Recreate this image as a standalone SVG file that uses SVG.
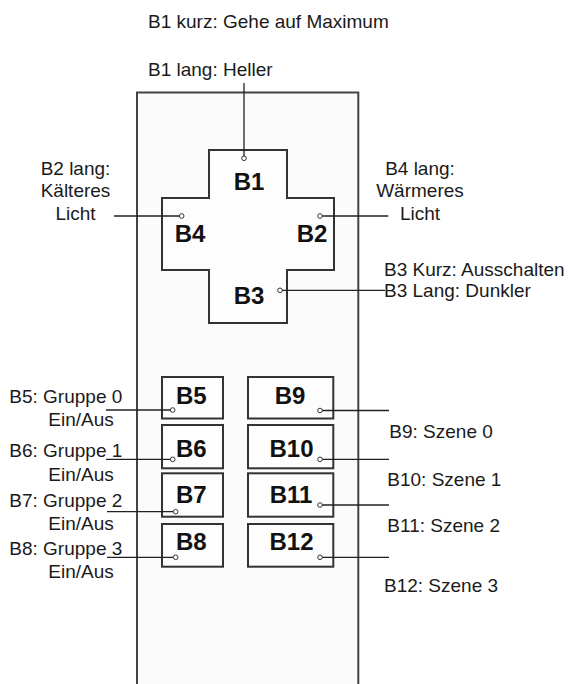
<svg xmlns="http://www.w3.org/2000/svg" width="571" height="684" viewBox="0 0 571 684">
<style>
.lbl{font-family:"Liberation Sans",Arial,sans-serif;font-size:19px;fill:#1a1a1a}
.key{font-family:"Liberation Sans",Arial,sans-serif;font-size:24px;font-weight:bold;fill:#111}
.btn{fill:#fdfdfd;stroke:#333;stroke-width:2}
.con{fill:none;stroke:#222;stroke-width:1.3}
</style>
<defs>
<marker id="dot" markerUnits="userSpaceOnUse" markerWidth="8" markerHeight="8" refX="4" refY="4" orient="auto">
<circle cx="4" cy="4" r="2.3" fill="#fff" stroke="#333" stroke-width="1"/>
</marker>
</defs>
<rect width="571" height="684" fill="#fff"/>
<g id="panel">
<path d="M137,686 V92.5 H358.3 V686" fill="#fbfbfb" stroke="#444" stroke-width="2"/>
</g>
<g id="cross">
<path d="M209,150 H287 V198 H334 V270 H287 V323 H209 V270 H162 V198 H209 Z" fill="#fdfdfd" stroke="#333" stroke-width="2"/>
<text class="key" x="249" y="189.5" text-anchor="middle">B1</text>
<text class="key" x="312" y="242" text-anchor="middle">B2</text>
<text class="key" x="249" y="303.5" text-anchor="middle">B3</text>
<text class="key" x="190" y="242" text-anchor="middle">B4</text>
</g>
<g id="B5"><rect class="btn" x="162" y="377" width="61" height="41.5"/><text class="key" x="176" y="403.5">B5</text></g>
<g id="B6"><rect class="btn" x="162" y="425" width="61" height="43.3"/><text class="key" x="176" y="457">B6</text></g>
<g id="B7"><rect class="btn" x="162" y="473.3" width="61" height="43.4"/><text class="key" x="176" y="503">B7</text></g>
<g id="B8"><rect class="btn" x="162" y="524" width="61" height="42.7"/><text class="key" x="176" y="550">B8</text></g>
<g id="B9"><rect class="btn" x="248" y="377" width="85.3" height="41.5"/><text class="key" x="290" y="404" text-anchor="middle">B9</text></g>
<g id="B10"><rect class="btn" x="248" y="425" width="85.3" height="43.3"/><text class="key" x="291.5" y="456.7" text-anchor="middle">B10</text></g>
<g id="B11"><rect class="btn" x="248" y="473.3" width="85.3" height="43.4"/><text class="key" x="291" y="503.3" text-anchor="middle">B11</text></g>
<g id="B12"><rect class="btn" x="248" y="524" width="85.3" height="42.7"/><text class="key" x="291.5" y="550" text-anchor="middle">B12</text></g>
<g id="connectors">
<path class="con" marker-start="url(#dot)" d="M244,158.3 V83"/>
<path class="con" marker-start="url(#dot)" d="M181.7,216 H114"/>
<path class="con" marker-start="url(#dot)" d="M320,216 H388.3"/>
<path class="con" marker-start="url(#dot)" d="M280,290.3 H385"/>
<path class="con" marker-start="url(#dot)" d="M172.7,410 H106"/>
<path class="con" marker-start="url(#dot)" d="M172.7,459.3 H106"/>
<path class="con" marker-start="url(#dot)" d="M175.7,511.7 H107"/>
<path class="con" marker-start="url(#dot)" d="M175.7,557.3 H107"/>
<path class="con" marker-start="url(#dot)" d="M320,410.5 H389"/>
<path class="con" marker-start="url(#dot)" d="M320,459.3 H389"/>
<path class="con" marker-start="url(#dot)" d="M320,505 H389"/>
<path class="con" marker-start="url(#dot)" d="M320,557.3 H389"/>
</g>
<g id="labels">
<text class="lbl" x="148" y="28.3">B1 kurz: Gehe auf Maximum</text>
<text class="lbl" x="148" y="76">B1 lang: Heller</text>
<text class="lbl" x="75.5" y="175" text-anchor="middle">B2 lang:</text>
<text class="lbl" x="75.5" y="196.7" text-anchor="middle">Kälteres</text>
<text class="lbl" x="75.5" y="220" text-anchor="middle">Licht</text>
<text class="lbl" x="420" y="175" text-anchor="middle">B4 lang:</text>
<text class="lbl" x="420" y="196.5" text-anchor="middle">Wärmeres</text>
<text class="lbl" x="420" y="220" text-anchor="middle">Licht</text>
<text class="lbl" x="384" y="276">B3 Kurz: Ausschalten</text>
<text class="lbl" x="384" y="297.3">B3 Lang: Dunkler</text>
<text class="lbl" x="9.3" y="403.3">B5: Gruppe 0</text>
<text class="lbl" x="48.3" y="426">Ein/Aus</text>
<text class="lbl" x="9.3" y="457.3">B6: Gruppe 1</text>
<text class="lbl" x="48.3" y="481">Ein/Aus</text>
<text class="lbl" x="9.3" y="506.7">B7: Gruppe 2</text>
<text class="lbl" x="48.3" y="530">Ein/Aus</text>
<text class="lbl" x="9.3" y="555">B8: Gruppe 3</text>
<text class="lbl" x="48.3" y="578.3">Ein/Aus</text>
<text class="lbl" x="389.3" y="438.3">B9: Szene 0</text>
<text class="lbl" x="387.3" y="486">B10: Szene 1</text>
<text class="lbl" x="387.3" y="531.7">B11: Szene 2</text>
<text class="lbl" x="384" y="591.7">B12: Szene 3</text>
</g>
</svg>
